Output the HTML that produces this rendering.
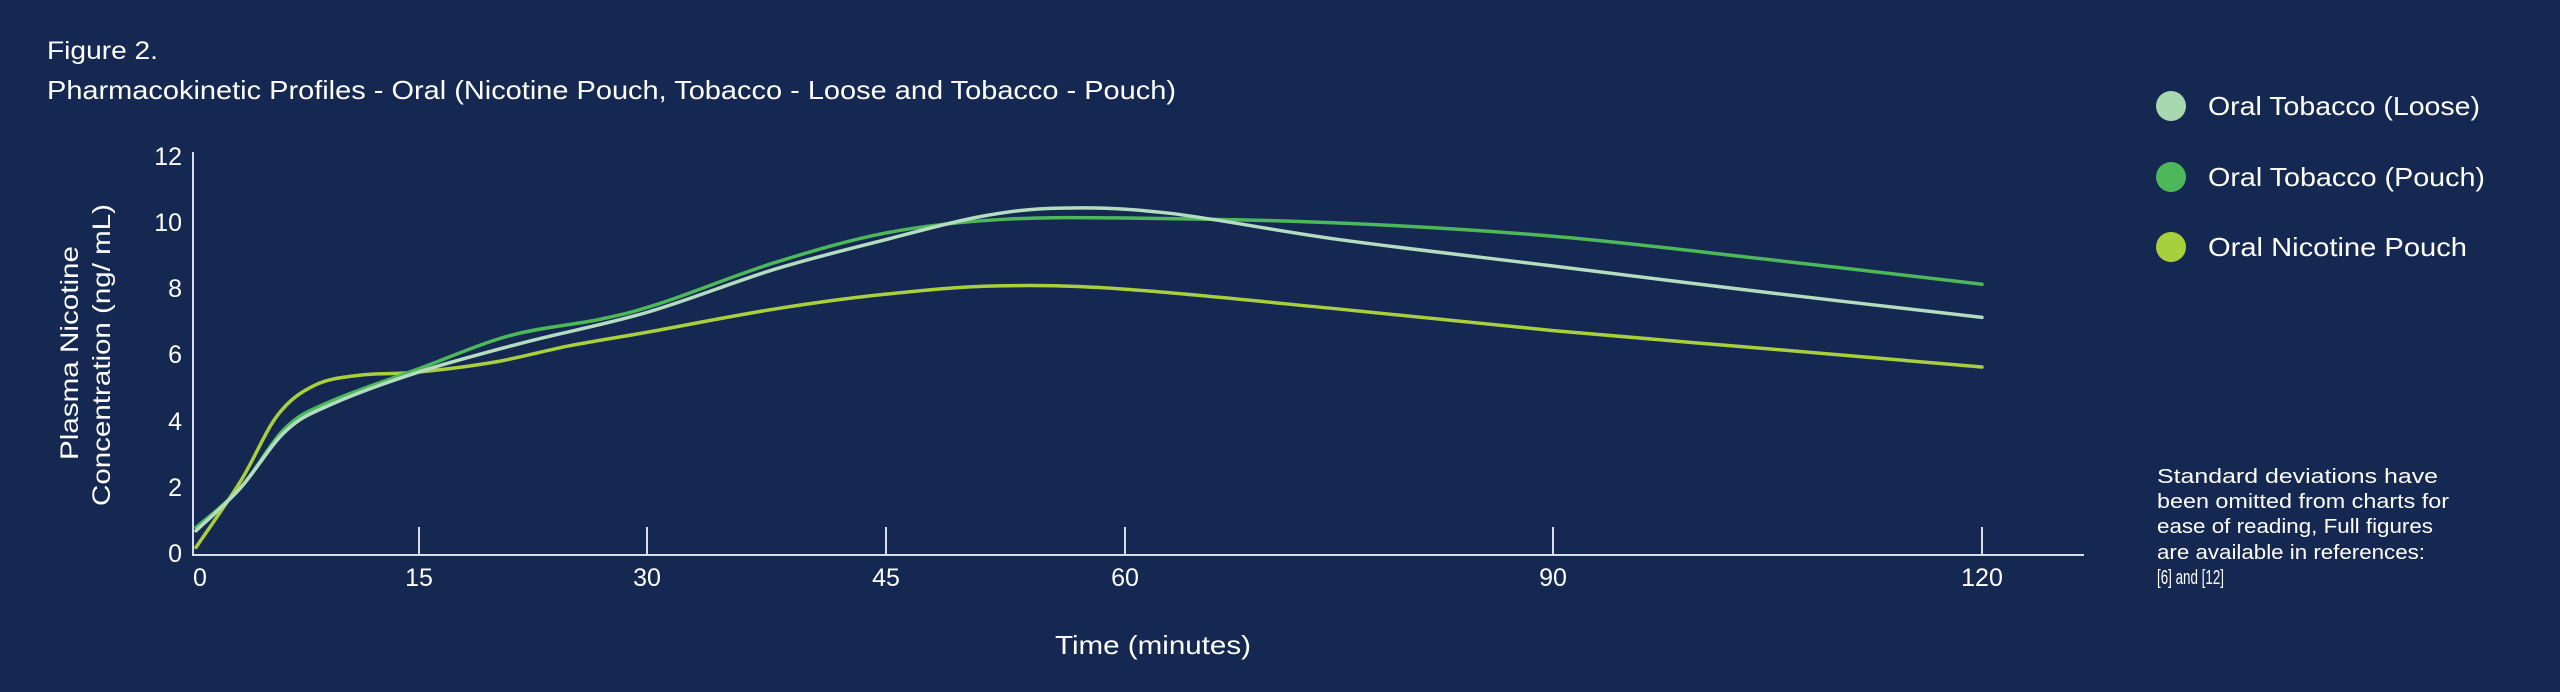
<!DOCTYPE html>
<html><head><meta charset="utf-8"><style>
html,body{margin:0;padding:0;background:#152851;}
svg{display:block}
text{font-family:"Liberation Sans",sans-serif;fill:#fff}
</style></head><body>
<svg id="s" width="2560" height="692" viewBox="0 0 2560 692" xmlns="http://www.w3.org/2000/svg">
<rect width="2560" height="692" fill="#152851"/>
<text x="47" y="59" font-size="25" textLength="111" lengthAdjust="spacingAndGlyphs">Figure 2.</text>
<text x="47" y="99" font-size="26" textLength="1129" lengthAdjust="spacingAndGlyphs">Pharmacokinetic Profiles - Oral (Nicotine Pouch, Tobacco - Loose and Tobacco - Pouch)</text>
<line x1="193" y1="152" x2="193" y2="556" stroke="#d8dce8" stroke-width="2"/>
<line x1="193" y1="555" x2="2084" y2="555" stroke="#d8dce8" stroke-width="2"/>
<g stroke="#d8dce8" stroke-width="2">
<line x1="419" y1="527" x2="419" y2="555"/><line x1="647" y1="527" x2="647" y2="555"/>
<line x1="886" y1="527" x2="886" y2="555"/><line x1="1125" y1="527" x2="1125" y2="555"/>
<line x1="1553" y1="527" x2="1553" y2="555"/><line x1="1982" y1="527" x2="1982" y2="555"/>
</g>
<g font-size="25" text-anchor="end">
<text x="182" y="165">12</text><text x="182" y="231">10</text><text x="182" y="297">8</text>
<text x="182" y="363">6</text><text x="182" y="430">4</text><text x="182" y="496">2</text><text x="182" y="562">0</text>
</g>
<g font-size="25" text-anchor="middle">
<text x="200" y="586">0</text><text x="419" y="586">15</text><text x="647" y="586">30</text>
<text x="886" y="586">45</text><text x="1125" y="586">60</text><text x="1553" y="586">90</text><text x="1982" y="586">120</text>
</g>
<text x="1055" y="654" font-size="26" textLength="196" lengthAdjust="spacingAndGlyphs">Time (minutes)</text>
<g transform="translate(85,355) rotate(-90)" font-size="25">
<text x="-105" y="-7" textLength="214" lengthAdjust="spacingAndGlyphs">Plasma Nicotine</text>
<text x="-151" y="25" textLength="302" lengthAdjust="spacingAndGlyphs">Concentration (ng/ mL)</text>
</g>
<circle cx="2171" cy="106" r="15" fill="#a8d8b0"/>
<circle cx="2171" cy="177" r="15" fill="#4cb85a"/>
<circle cx="2171" cy="247" r="15" fill="#a8cf3c"/>
<g font-size="26">
<text x="2208" y="115" textLength="272" lengthAdjust="spacingAndGlyphs">Oral Tobacco (Loose)</text>
<text x="2208" y="186" textLength="277" lengthAdjust="spacingAndGlyphs">Oral Tobacco (Pouch)</text>
<text x="2208" y="256" textLength="259" lengthAdjust="spacingAndGlyphs">Oral Nicotine Pouch</text>
</g>
<g font-size="20">
<text x="2157" y="483" textLength="281" lengthAdjust="spacingAndGlyphs">Standard deviations have</text>
<text x="2157" y="508" textLength="292" lengthAdjust="spacingAndGlyphs">been omitted from charts for</text>
<text x="2157" y="533" textLength="276" lengthAdjust="spacingAndGlyphs">ease of reading, Full figures</text>
<text x="2157" y="559" textLength="268" lengthAdjust="spacingAndGlyphs">are available in references:</text>
<text x="2157" y="584" textLength="67" lengthAdjust="spacingAndGlyphs">[6] and [12]</text>
</g>
<g id="curves" fill="none" stroke-width="3.5" stroke-linecap="round"></g>
</svg>
<script>
var T=[0,15,30,45,60,90,120],P=[196,419,647,886,1125,1553,1982];
function X(t){for(var i=0;i<T.length-1;i++){if(t<=T[i+1])return P[i]+(t-T[i])/(T[i+1]-T[i])*(P[i+1]-P[i]);}return P[6];}
function Y(v){return 554-v*33.1;}
function path(d){var p=d.map(function(a){return [X(a[0]),Y(a[1])]});var s="M"+p[0][0]+","+p[0][1];
for(var i=0;i<p.length-1;i++){var p0=p[i-1]||p[i],p1=p[i],p2=p[i+1],p3=p[i+2]||p2;
s+=" C"+(p1[0]+(p2[0]-p0[0])/6)+","+(p1[1]+(p2[1]-p0[1])/6)+" "+(p2[0]-(p3[0]-p1[0])/6)+","+(p2[1]-(p3[1]-p1[1])/6)+" "+p2[0]+","+p2[1];}return s;}
var S=[
["#a8cf3c",[[0,0.2],[3,2.2],[5.5,4.2],[8,5.1],[11,5.4],[15,5.5],[20,5.8],[25,6.3],[30,6.7],[38,7.4],[45,7.85],[52,8.1],[60,8.0],[75,7.4],[90,6.75],[105,6.2],[120,5.65]]],
["#4cb85a",[[0,0.8],[3,2],[6,3.8],[9,4.6],[15,5.6],[21,6.6],[27,7.1],[31,7.6],[38,8.8],[45,9.7],[52,10.1],[60,10.15],[75,10.0],[90,9.6],[105,8.9],[120,8.15]]],
["#b4dcc0",[[0,0.7],[3,2],[6,3.7],[9,4.5],[15,5.5],[22,6.4],[30,7.3],[38,8.6],[45,9.5],[51,10.2],[56,10.45],[63,10.3],[75,9.5],[90,8.7],[105,7.9],[120,7.15]]]];
var g=document.getElementById("curves");
S.forEach(function(s){var e=document.createElementNS("http://www.w3.org/2000/svg","path");e.setAttribute("d",path(s[1]));e.setAttribute("stroke",s[0]);g.appendChild(e);});
</script>
</body></html>
